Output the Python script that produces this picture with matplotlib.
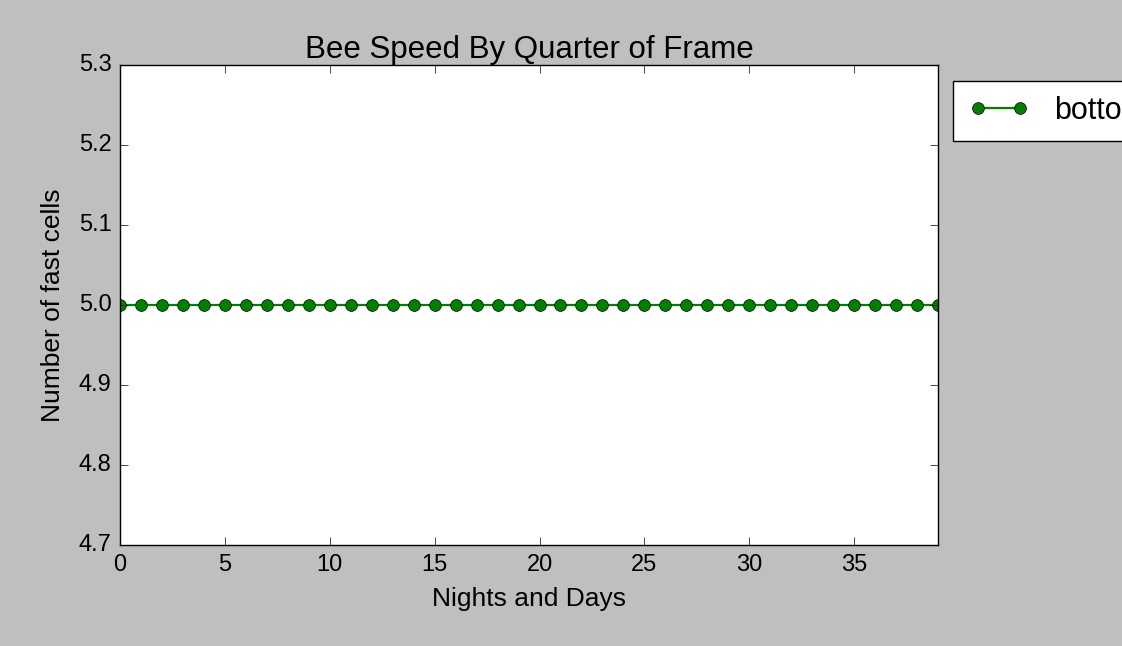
import matplotlib
matplotlib.use("Agg")
import matplotlib.pyplot as plt

plt.style.use('classic')
plt.rcParams['font.family'] = ['Liberation Sans', 'DejaVu Sans']

nights_days = list(range(40))
bottom_values = [5] * 40
series_label = "bottom"

fig = plt.figure(figsize=(11.22, 6.46), dpi=100)
ax = fig.add_axes([0.107, 0.156, 0.729, 0.743])
ax.plot(nights_days, bottom_values, 'g-o', markersize=8.5, linewidth=1.6, label=series_label)
ax.set_xlim(0, 39)
ax.set_ylim(4.7, 5.3)
ax.set_title("Bee Speed By Quarter of Frame", fontsize=22.5)
ax.set_xlabel("Nights and Days", fontsize=19, labelpad=8)
ax.set_ylabel("Number of fast cells", fontsize=19, labelpad=10)
ax.tick_params(labelsize=17, length=5.5, pad=6)
ax.legend(loc='upper left', bbox_to_anchor=(1.0, 1.0), fontsize=22,
          borderpad=0.5, handlelength=2.0)
fig.savefig("out.png", dpi=100, facecolor=fig.get_facecolor())
